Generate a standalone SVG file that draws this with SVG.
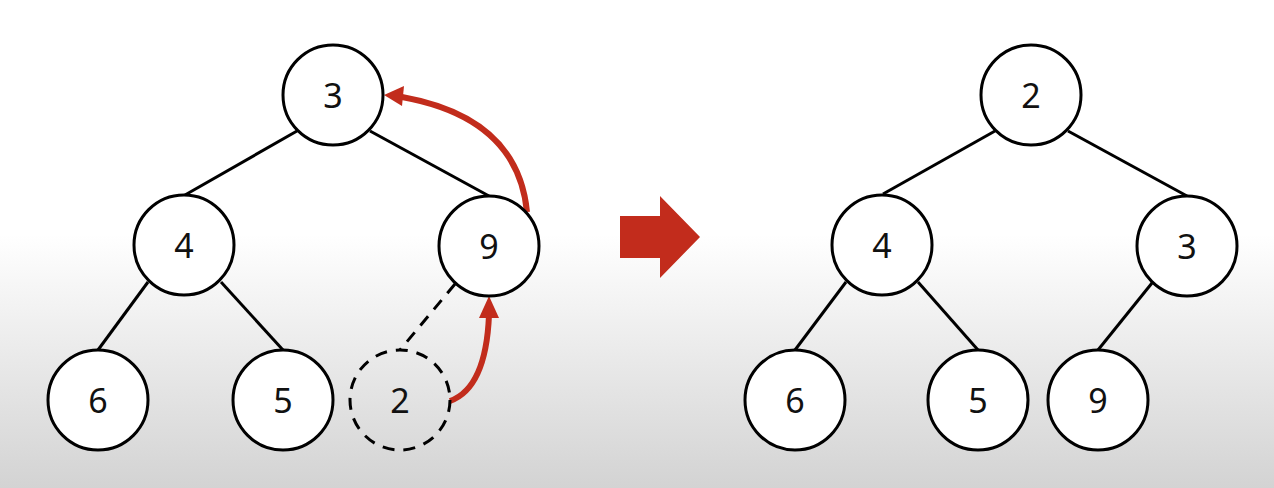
<svg xmlns="http://www.w3.org/2000/svg" width="1274" height="488" viewBox="0 0 1274 488">
<defs>
<linearGradient id="bg" x1="0" y1="0" x2="0" y2="488" gradientUnits="userSpaceOnUse">
<stop offset="0" stop-color="#ffffff"/>
<stop offset="0.48" stop-color="#ffffff"/>
<stop offset="1" stop-color="#d3d3d3"/>
</linearGradient>
<style>
.n{fill:#fff;stroke:#000;stroke-width:3}
.d{fill:none;stroke:#000;stroke-width:3;stroke-dasharray:12 9}
.t{font-family:"Noto Sans","Open Sans",sans-serif;font-size:34px;fill:#111;text-anchor:middle;dominant-baseline:central}
.e{stroke:#000;stroke-width:3;fill:none}
.r{stroke:#c22c1c;stroke-width:6;fill:none}
.h{fill:#c22c1c}
</style>
</defs>
<rect width="1274" height="488" fill="url(#bg)"/>
<g id="connectors">
<line class="e" x1="297" y1="131" x2="185" y2="195"/>
<line class="e" x1="370" y1="131" x2="489" y2="196"/>
<line class="e" x1="148" y1="282" x2="98" y2="350"/>
<line class="e" x1="221" y1="282" x2="283" y2="350"/>
<line class="e" x1="455" y1="284" x2="400" y2="350" stroke-dasharray="12 9"/>
<line class="e" x1="995" y1="131" x2="883" y2="194"/>
<line class="e" x1="1068" y1="131" x2="1187" y2="196"/>
<line class="e" x1="846" y1="282" x2="795" y2="350"/>
<line class="e" x1="918" y1="282" x2="978" y2="350"/>
<line class="e" x1="1152" y1="283" x2="1098" y2="350"/>
<path class="r" d="M527,212 Q518,118 402,97"/>
<polygon class="h" points="384,95 404,86 402,106"/>
<path class="r" d="M450,401 Q486,388 489,315"/>
<polygon class="h" points="489,296 479,318 499,318"/>
</g>
<g id="bigarrow"><polygon points="620,216 660,216 660,196 700,237 660,278 660,258 620,258" fill="#c22c1c"/></g>
<g id="L3"><circle class="n" cx="333" cy="95" r="50"/><text class="t" x="333" y="95">3</text></g>
<g id="L4"><circle class="n" cx="184" cy="245" r="50"/><text class="t" x="184" y="245">4</text></g>
<g id="L9"><circle class="n" cx="489" cy="246" r="50"/><text class="t" x="489" y="246">9</text></g>
<g id="L6"><circle class="n" cx="98" cy="400" r="50"/><text class="t" x="98" y="400">6</text></g>
<g id="L5"><circle class="n" cx="283" cy="400" r="50"/><text class="t" x="283" y="400">5</text></g>
<g id="L2"><circle class="d" cx="400" cy="400" r="50"/><text class="t" x="400" y="400">2</text></g>
<g id="R2"><circle class="n" cx="1031" cy="95" r="50"/><text class="t" x="1031" y="95">2</text></g>
<g id="R4"><circle class="n" cx="882" cy="245" r="50"/><text class="t" x="882" y="245">4</text></g>
<g id="R3"><circle class="n" cx="1187" cy="246" r="50"/><text class="t" x="1187" y="246">3</text></g>
<g id="R6"><circle class="n" cx="795" cy="400" r="50"/><text class="t" x="795" y="400">6</text></g>
<g id="R5"><circle class="n" cx="978" cy="400" r="50"/><text class="t" x="978" y="400">5</text></g>
<g id="R9"><circle class="n" cx="1098" cy="400" r="50"/><text class="t" x="1098" y="400">9</text></g>
</svg>
